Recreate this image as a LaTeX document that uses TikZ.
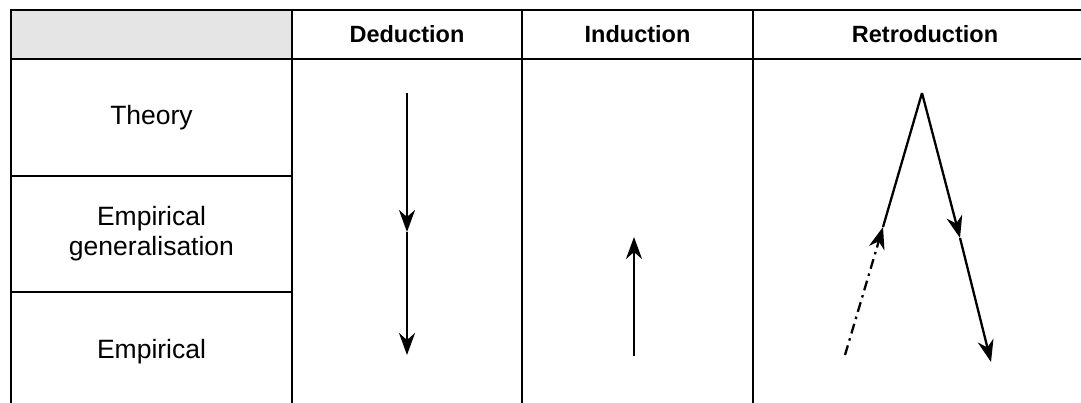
\documentclass[tikz,border=0pt]{standalone}
\usepackage{fontspec}
\setmainfont{Liberation Sans}
\usetikzlibrary{arrows.meta,calc}
\begin{document}
\begin{tikzpicture}[x=1pt,y=-1pt,
  grid/.style={line width=2.6pt, line cap=rect},
  body/.style={font=\fontsize{26.5}{30}\selectfont, align=center, inner sep=0pt},
  head/.style={font=\fontsize{23.5}{27}\selectfont\bfseries, inner sep=0pt},
  arr/.style={line width=2.3pt, -{Stealth[length=22pt,width=16pt,inset=7pt]}},
  plain/.style={line width=2.3pt},
  dashdot/.style={line width=2.3pt, dash pattern=on 10pt off 5pt on 2.5pt off 5pt}]
\useasboundingbox (0,0) rectangle (1081,403);
% header fill
\fill[black!10] (11,10) rectangle (292,59);
% grid lines
\draw[grid] (11,10) -- (1081,10);
\draw[grid] (11,59) -- (1081,59);
\draw[grid] (11,176) -- (292,176);
\draw[grid] (11,292) -- (292,292);
\draw[grid] (11,10) -- (11,403);
\draw[grid] (292,10) -- (292,403);
\draw[grid] (522,10) -- (522,403);
\draw[grid] (753,10) -- (753,403);
% headers
\node[head] (hd) at (407,34.5) {Deduction};
\node[head] (hi) at (637.5,34.5) {Induction};
\node[head] (hr) at (925,34.5) {Retroduction};
% row labels
\node[body] (theory) at (151.5,118) {Theory};
\node[body] (empgen) at (151.5,234) {Empirical\\generalisation};
\node[body] (emp) at (151.5,352) {Empirical};
% deduction
\coordinate (d1) at (407,93);
\coordinate (d2) at (407,232);
\coordinate (d3) at (407,355);
\draw[arr] (d1) -- (d2);
\draw[arr] (d2) -- (d3);
% induction
\coordinate (i1) at (634,356);
\coordinate (i2) at (634,237);
\draw[arr] (i1) -- (i2);
% retroduction
\coordinate (r0) at (845,355);
\coordinate (r1) at (883,227);
\coordinate (apex) at (922,93);
\coordinate (r2) at (960,238);
\coordinate (r3) at (991,362);
\coordinate (rm) at ($(r0)!0.84!(r1)$);
\draw[dashdot] (r0) -- (rm);
\draw[arr] (rm) -- (r1);
\draw[plain] (r1) -- (apex);
\draw[arr] (apex) -- (r2);
\draw[arr] (r2) -- (r3);
\end{tikzpicture}
\end{document}
